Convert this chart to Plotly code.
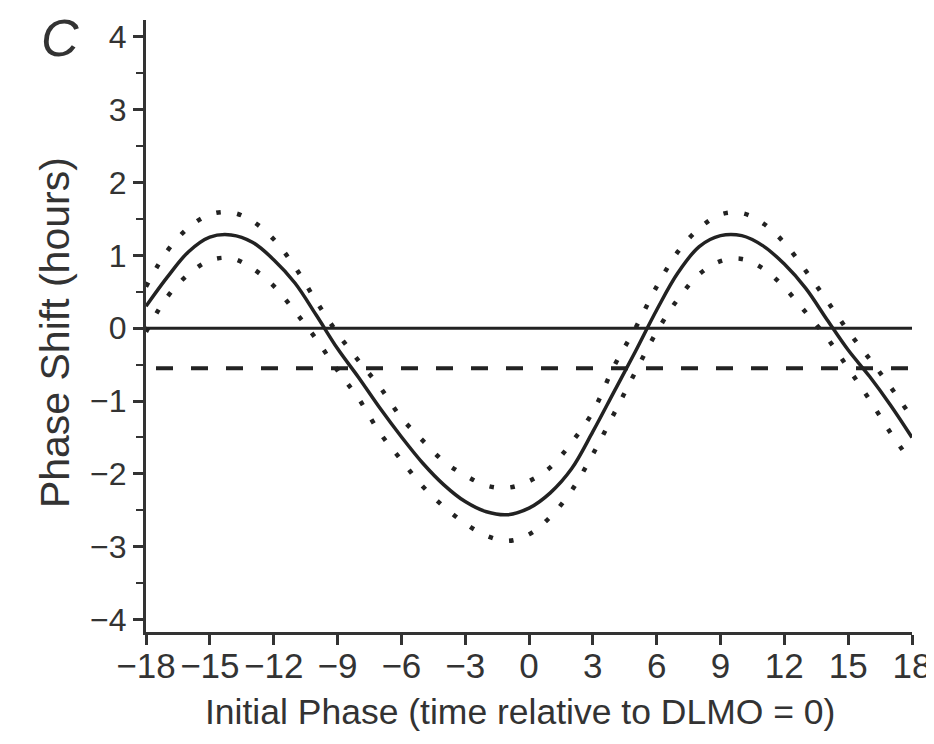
import plotly.graph_objects as go

# Initial phase (hours relative to DLMO = 0)
hours = list(range(-18, 19))

# Fitted phase response curve (hours)
prc_fit = [0.30, 0.70, 1.05, 1.25, 1.28, 1.18, 0.94, 0.62, 0.18, -0.28,
           -0.68, -1.10, -1.49, -1.85, -2.15, -2.38, -2.52, -2.56, -2.47, -2.26,
           -1.93, -1.42, -0.87, -0.32, 0.25, 0.76, 1.12, 1.27, 1.27, 1.13,
           0.88, 0.55, 0.12, -0.30, -0.66, -1.06, -1.50]

# Upper confidence band (hours)
prc_upper = [0.57, 1.06, 1.38, 1.56, 1.59, 1.47, 1.22, 0.84, 0.37, -0.07,
             -0.45, -0.81, -1.23, -1.54, -1.83, -2.02, -2.16, -2.19, -2.10, -1.91,
             -1.57, -1.15, -0.52, 0.00, 0.57, 1.05, 1.37, 1.56, 1.58, 1.44,
             1.17, 0.79, 0.38, -0.04, -0.42, -0.81, -1.23]

# Lower confidence band (hours)
prc_lower = [-0.05, 0.43, 0.74, 0.93, 0.96, 0.82, 0.58, 0.23, -0.15, -0.58,
             -0.97, -1.44, -1.81, -2.17, -2.45, -2.68, -2.85, -2.92, -2.83, -2.59,
             -2.23, -1.73, -1.17, -0.60, -0.05, 0.40, 0.74, 0.92, 0.95, 0.82,
             0.56, 0.22, -0.13, -0.55, -0.98, -1.44, -1.85]

zero_shift = 0.0
mean_shift = -0.55

x_ticks = [-18, -15, -12, -9, -6, -3, 0, 3, 6, 9, 12, 15, 18]
x_ticktext = ["\u221218", "\u221215", "\u221212", "\u22129", "\u22126", "\u22123",
              "0", "3", "6", "9", "12", "15", "18"]
y_ticks = [-4, -3, -2, -1, 0, 1, 2, 3, 4]
y_ticktext = ["\u22124", "\u22123", "\u22122", "\u22121", "0", "1", "2", "3", "4"]

ink = "#222222"
txt = "#333333"
font = "Liberation Sans, Arial, sans-serif"

fig = go.Figure()

fig.add_trace(go.Scatter(x=[hours[0], hours[-1]], y=[zero_shift, zero_shift],
                         mode="lines", line=dict(color=ink, width=3), hoverinfo="skip"))
fig.add_trace(go.Scatter(x=[hours[0], hours[-1]], y=[mean_shift, mean_shift],
                         mode="lines", line=dict(color=ink, width=4, dash="0px,10px,17px,8px"),
                         hoverinfo="skip"))
fig.add_trace(go.Scatter(x=hours, y=prc_upper, mode="lines",
                         line=dict(color=ink, width=4.5, dash="4.5px,16.5px", shape="spline")))
fig.add_trace(go.Scatter(x=hours, y=prc_lower, mode="lines",
                         line=dict(color=ink, width=4.5, dash="4.5px,16.5px", shape="spline")))
fig.add_trace(go.Scatter(x=hours, y=prc_fit, mode="lines",
                         line=dict(color=ink, width=3.5, shape="spline")))

fig.update_layout(
    width=926, height=728,
    margin=dict(l=138, r=22, t=12, b=104),
    paper_bgcolor="white", plot_bgcolor="white",
    showlegend=False,
    font=dict(family=font, color=txt),
)

fig.update_xaxes(
    range=[-18, 18], tickvals=x_ticks, ticktext=x_ticktext,
    showgrid=False, zeroline=False, automargin=False,
    showline=True, linecolor="#333333", linewidth=3,
    ticks="outside", ticklen=10, tickwidth=2.5, tickcolor="#333333",
    ticklabelstandoff=-9,
    tickfont=dict(size=35, color=txt, family=font),
)

fig.update_yaxes(
    range=[-4.17, 4.23], tickvals=y_ticks, ticktext=y_ticktext,
    showgrid=False, zeroline=False, automargin=False,
    showline=True, linecolor="#333333", linewidth=3,
    ticks="outside", ticklen=10, tickwidth=2.5, tickcolor="#333333",
    tickfont=dict(size=32, color=txt, family=font),
    minor=dict(dtick=0.5, tick0=0, ticks="outside", ticklen=7, tickwidth=2,
               tickcolor="#333333", showgrid=False),
)

fig.add_annotation(text="Initial Phase (time relative to DLMO = 0)",
                   xref="paper", yref="paper", x=0.488, y=-0.1307,
                   xanchor="center", yanchor="middle", showarrow=False,
                   font=dict(size=35.5, color=txt, family=font))
fig.add_annotation(text="Phase Shift (hours)", textangle=-90,
                   xref="paper", yref="paper", x=-0.1188, y=0.49,
                   xanchor="center", yanchor="middle", showarrow=False,
                   font=dict(size=41, color=txt, family=font))
fig.add_annotation(text="<i>C</i>", xref="paper", yref="paper",
                   x=-0.1120, y=0.9706, xanchor="center", yanchor="middle",
                   showarrow=False, font=dict(size=52, color=txt, family=font))

fig.write_html("out.html")
